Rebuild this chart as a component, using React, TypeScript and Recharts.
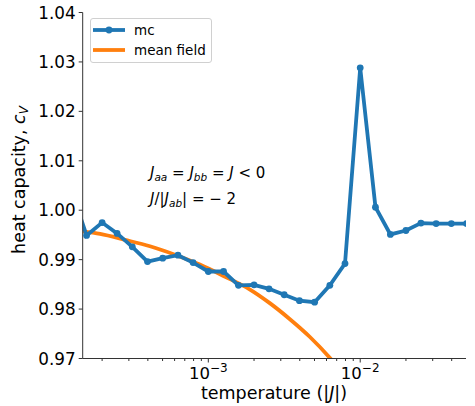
import React from 'react';
import { LineChart, Line, XAxis, YAxis } from 'recharts';

// monte carlo run (first point sits just left of the axis and gets clipped)
const MC_T = [
  1.26e-4, 1.58e-4, 2.0e-4, 2.51e-4, 3.16e-4, 3.98e-4, 5.01e-4, 6.31e-4, 7.94e-4,
  1.0e-3, 1.26e-3, 1.58e-3, 2.0e-3, 2.51e-3, 3.16e-3, 3.98e-3, 5.01e-3, 6.31e-3,
  7.94e-3, 1.0e-2, 1.26e-2, 1.58e-2, 2.0e-2, 2.51e-2, 3.16e-2, 3.98e-2, 5.01e-2,
];
const MC_CV = [
  1.004, 0.9949, 0.9975, 0.9953, 0.9926, 0.9896, 0.9903, 0.9909, 0.9894,
  0.9876, 0.9876, 0.9848, 0.9849, 0.9841, 0.9829, 0.9817, 0.9814, 0.9848,
  0.9892, 1.0288, 1.0006, 0.9951, 0.9959, 0.9974, 0.9973, 0.9973, 0.9973,
];

// mean field curve
const MF_T = [
  1.49e-4, 1.94e-4, 2.83e-4, 4.13e-4, 6.03e-4, 8.8e-4, 1.28e-3, 1.87e-3,
  2.54e-3, 3.43e-3, 4.65e-3, 6.28e-3, 7.88e-3,
];
const MF_CV = [
  0.9957, 0.9952, 0.994, 0.9927, 0.991, 0.989, 0.9866, 0.984,
  0.9812, 0.978, 0.9744, 0.9702, 0.9665,
];

const X_DOMAIN = [1.49e-4, 0.0497];
const Y_DOMAIN = [0.97, 1.04];
const Y_TICKS = [0.97, 0.98, 0.99, 1.0, 1.01, 1.02, 1.03, 1.04];
const X_MAJOR = [1e-3, 1e-2];
const X_MAJOR_LABELS = ['−3', '−2'];
const X_MINOR = [
  2e-4, 3e-4, 4e-4, 5e-4, 6e-4, 7e-4, 8e-4, 9e-4,
  2e-3, 3e-3, 4e-3, 5e-3, 6e-3, 7e-3, 8e-3, 9e-3,
  2e-2, 3e-2, 4e-2,
];

const BLUE = '#1f77b4';
const ORANGE = '#ff7f0e';
const FONT = 'DejaVu Sans';
const AXIS = '#333';

const mcData = MC_T.map((t, i) => ({ t, cv: MC_CV[i] }));
const mfData = MF_T.map((t, i) => ({ t, cv: MF_CV[i] }));
const xTicks = [...X_MINOR, ...X_MAJOR].sort((a, b) => a - b);

function XTick(props: any) {
  const { x, y, payload } = props;
  const idx = X_MAJOR.indexOf(payload.value);
  const major = idx >= 0;
  return (
    <g>
      <line x1={x} x2={x} y1={y} y2={y + (major ? 4 : 2.5)} stroke={AXIS} strokeWidth={1} />
      {major && (
        <text x={x} y={y + 20} textAnchor='middle' fontSize={16.5} fontFamily={FONT} fill='#000'>
          <tspan>10</tspan>
          <tspan dy={-7} fontSize={12}>{X_MAJOR_LABELS[idx]}</tspan>
        </text>
      )}
    </g>
  );
}

function YTick(props: any) {
  const { x, y, payload } = props;
  return (
    <g>
      <line x1={x - 4} x2={x} y1={y} y2={y} stroke={AXIS} strokeWidth={1} />
      <text x={x - 7} y={y} dy={6} textAnchor='end' fontSize={16.8} fontFamily={FONT} fill='#000'>
        {payload.value.toFixed(2)}
      </text>
    </g>
  );
}

function LegendBox() {
  return (
    <div
      style={{
        position: 'absolute',
        left: 90,
        top: 18,
        width: 122,
        height: 45,
        boxSizing: 'border-box',
        border: '1px solid #d0d0d0',
        borderRadius: 3,
        background: 'rgba(255,255,255,0.8)',
        fontFamily: FONT,
        fontSize: 13.5,
      }}
    >
      <svg width={122} height={45} style={{ position: 'absolute', left: -1, top: -1 }}>
        <line x1={3} x2={35} y1={12} y2={12} stroke={BLUE} strokeWidth={3.8} />
        <circle cx={19} cy={12} r={3.4} fill={BLUE} />
        <line x1={3} x2={35} y1={32} y2={32} stroke={ORANGE} strokeWidth={3.8} />
        <text x={44} y={17} fontSize={13.5} fontFamily={FONT}>mc</text>
        <text x={44} y={37} fontSize={13.5} fontFamily={FONT}>mean field</text>
      </svg>
    </div>
  );
}

function Overlay() {
  const it = { fontStyle: 'italic' as const };
  return (
    <svg width={475} height={406} style={{ position: 'absolute', left: 0, top: 0, pointerEvents: 'none' }}>
      <text transform='translate(25,180) rotate(-90)' textAnchor='middle' fontSize={17.5} fontFamily={FONT}>
        heat capacity, <tspan {...it}>c</tspan>
        <tspan {...it} fontSize={12} dy={3}>V</tspan>
      </text>
      <text x={274} y={399} textAnchor='middle' fontSize={17.5} fontFamily={FONT}>
        temperature (|<tspan {...it}>J</tspan>|)
      </text>
      <text x={150} y={178} fontSize={15} fontFamily={FONT}>
        <tspan {...it}>J</tspan>
        <tspan {...it} fontSize={10.5} dy={3}>aa</tspan>
        <tspan dy={-3}> = </tspan>
        <tspan {...it}>J</tspan>
        <tspan {...it} fontSize={10.5} dy={3}>bb</tspan>
        <tspan dy={-3}> = </tspan>
        <tspan {...it}>J</tspan>
        <tspan> &lt; 0</tspan>
      </text>
      <text x={150} y={204} fontSize={15} fontFamily={FONT}>
        <tspan {...it}>J</tspan>
        <tspan>/|</tspan>
        <tspan {...it}>J</tspan>
        <tspan {...it} fontSize={10.5} dy={3}>ab</tspan>
        <tspan dy={-3}>| =  − 2</tspan>
      </text>
    </svg>
  );
}

export default function App() {
  return (
    <div style={{ position: 'absolute', left: 0, top: 0, width: 475, height: 406, background: '#fff' }}>
      <LineChart width={475} height={406} margin={{ top: 12.5, right: 9, bottom: 0, left: 0 }}>
        <XAxis
          dataKey='t'
          type='number'
          scale='log'
          domain={X_DOMAIN}
          allowDataOverflow
          ticks={xTicks}
          interval={0}
          tick={<XTick />}
          tickLine={false}
          tickSize={0}
          tickMargin={0}
          height={47.5}
          stroke={AXIS}
        />
        <XAxis xAxisId='top' orientation='top' type='number' height={0} tick={false} tickLine={false} stroke={AXIS} />
        <YAxis
          type='number'
          domain={Y_DOMAIN}
          allowDataOverflow
          ticks={Y_TICKS}
          interval={0}
          tick={<YTick />}
          tickLine={false}
          tickSize={0}
          tickMargin={0}
          width={82.7}
          stroke={AXIS}
        />
        <YAxis yAxisId='right' orientation='right' width={0} tick={false} tickLine={false} stroke={AXIS} />
        <Line
          data={mfData}
          dataKey='cv'
          type='monotone'
          stroke={ORANGE}
          strokeWidth={3.8}
          dot={false}
          isAnimationActive={false}
        />
        <Line
          data={mcData}
          dataKey='cv'
          type='linear'
          stroke={BLUE}
          strokeWidth={3.8}
          dot={{ r: 3.4, fill: BLUE, stroke: BLUE, strokeWidth: 0 }}
          isAnimationActive={false}
        />
      </LineChart>
      <LegendBox />
      <Overlay />
    </div>
  );
}
